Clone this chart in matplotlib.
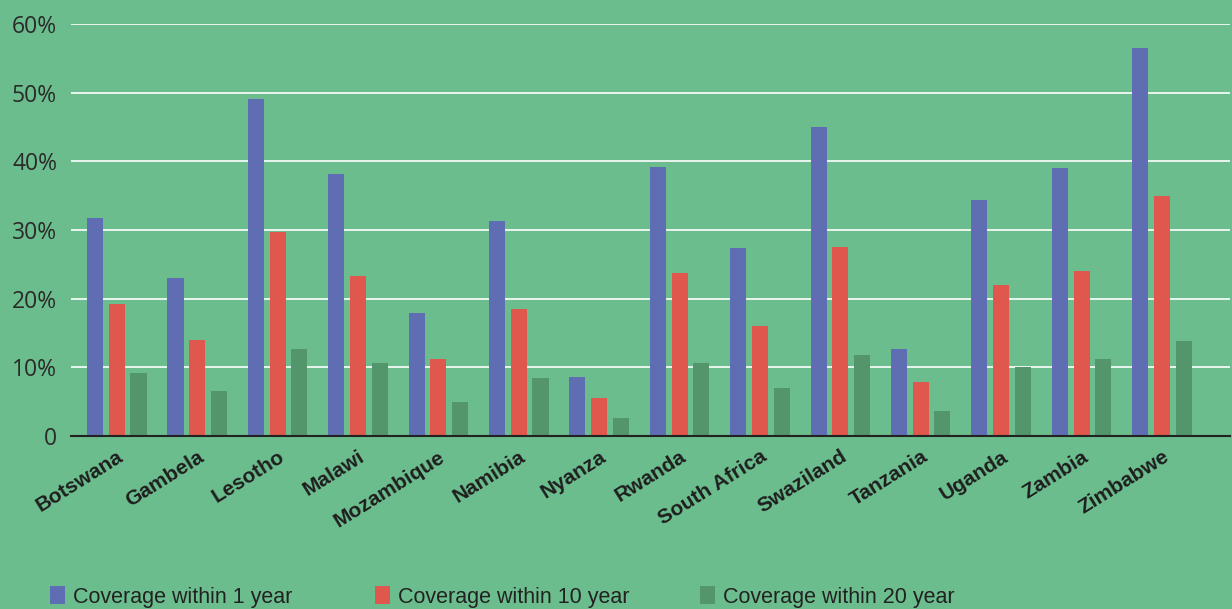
import numpy as np
import matplotlib.pyplot as plt

# Coverage data (percent)
regions = ["Botswana", "Gambela", "Lesotho", "Malawi", "Mozambique", "Namibia", "Nyanza",
           "Rwanda", "South Africa", "Swaziland", "Tanzania", "Uganda", "Zambia", "Zimbabwe"]
within_1 = [31.7, 23.0, 49.1, 38.1, 17.9, 31.3, 8.6, 39.2, 27.4, 45.0, 12.7, 34.4, 39.0, 56.5]
within_10 = [19.2, 14.0, 29.7, 23.3, 11.2, 18.5, 5.5, 23.7, 16.0, 27.5, 7.9, 22.0, 24.0, 34.9]
within_20 = [9.2, 6.6, 12.7, 10.6, 4.9, 8.4, 2.6, 10.6, 7.0, 11.8, 3.6, 10.0, 11.2, 13.8]
series_names = ["Coverage within 1 year", "Coverage within 10 year", "Coverage within 20 year"]
yticks = [0, 10, 20, 30, 40, 50, 60]
ytick_labels = ["0", "10%", "20%", "30%", "40%", "50%", "60%"]

bg = "#6cbd8d"
colors = ["#5f6db3", "#e0574d", "#54966b"]

fig = plt.figure(figsize=(12.32, 6.09), dpi=100, facecolor=bg)
ax = fig.add_axes([0.0576, 0.284, 0.941, 0.6766])
ax.set_facecolor(bg)

x = np.arange(len(regions))
offsets = [-0.27, 0, 0.27]
bars = []
for vals, off, c, name in zip([within_1, within_10, within_20], offsets, colors, series_names):
    bars.append(ax.bar(x + off, vals, width=0.2, color=c, label=name, zorder=3))

ax.set_ylim(0, 60)
ax.set_xlim(-0.57, 13.85)
ax.set_yticks(yticks)
ax.set_yticklabels(ytick_labels, fontsize=16.5, color="#2a2a2a", fontfamily="Open Sans")
ax.yaxis.grid(True, color="white", linewidth=1.2, zorder=0)
ax.tick_params(axis="y", length=0, pad=10)
ax.tick_params(axis="x", length=0, pad=8)
ax.set_xticks(x)
ax.set_xticklabels(regions, rotation=32, ha="right", rotation_mode="anchor",
                   fontsize=15, fontweight="bold", color="#1e1e1e", fontfamily="Liberation Sans")

for side in ["top", "right", "left"]:
    ax.spines[side].set_visible(False)
ax.spines["bottom"].set_color("#222222")
ax.spines["bottom"].set_linewidth(1.5)
ax.spines["bottom"].set_zorder(4)

# one legend per entry so each sits at its own spot along the bottom
for b, name, xpos in zip(bars, series_names, [50, 375, 700]):
    fig.legend([b], [name], loc="center left", bbox_to_anchor=(xpos / 1232, 12 / 609),
               frameon=False, borderpad=0, borderaxespad=0,
               prop={"family": "Liberation Sans", "size": 15.5}, handlelength=0.68,
               handleheight=0.9, handletextpad=0.4, labelcolor="#222222")

fig.savefig("out.png", dpi=100, facecolor=bg)
